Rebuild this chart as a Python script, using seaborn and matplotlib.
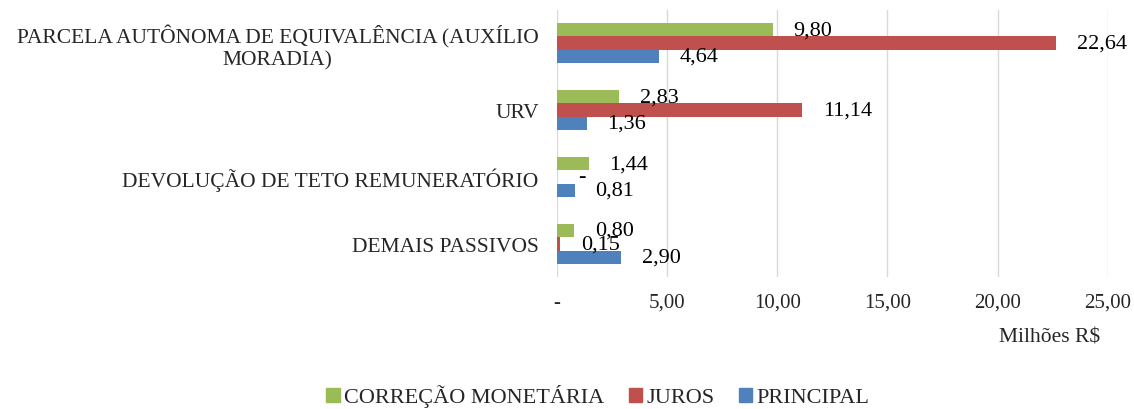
"""Passivos por categoria: correção monetária, juros e principal (milhões R$)."""

import pandas as pd
import matplotlib.pyplot as plt
import seaborn as sns

CATEGORIES = [
    "PARCELA AUTÔNOMA DE EQUIVALÊNCIA (AUXÍLIO\nMORADIA)",
    "URV",
    "DEVOLUÇÃO DE TETO REMUNERATÓRIO",
    "DEMAIS PASSIVOS",
]
SERIES = ["CORREÇÃO MONETÁRIA", "JUROS", "PRINCIPAL"]
CORRECAO = [9.80, 2.83, 1.44, 0.80]
JUROS = [22.64, 11.14, 0.0, 0.15]
PRINCIPAL = [4.64, 1.36, 0.81, 2.90]
X_TICKS = [0, 5, 10, 15, 20, 25]
COLORS = ["#9BBB59", "#C0504D", "#4F81BD"]


def fmt_br(val):
    if val == 0:
        return "-"
    return f"{val:.2f}".replace(".", ",")


def main():
    df = pd.DataFrame({
        "categoria": CATEGORIES * 3,
        "serie": [s for s in SERIES for _ in CATEGORIES],
        "valor": CORRECAO + JUROS + PRINCIPAL,
    })

    sns.set_style("white")
    plt.rcParams["font.family"] = ["Liberation Serif", "DejaVu Serif"]

    fig = plt.figure(figsize=(11.34, 4.10), dpi=100)
    ax = fig.add_axes([0.491, 0.321, 0.486, 0.653])
    sns.barplot(
        data=df,
        y="categoria",
        x="valor",
        hue="serie",
        hue_order=SERIES,
        order=CATEGORIES,
        palette=COLORS,
        orient="h",
        width=0.6,
        gap=0,
        saturation=1,
        linewidth=0,
        ax=ax,
        legend=False,
    )

    for cont, vals in zip(ax.containers, [CORRECAO, JUROS, PRINCIPAL]):
        ax.bar_label(cont, labels=[fmt_br(v) for v in vals], padding=15, fontsize=16, color="#000000")

    ax.set_xlim(0, 25)
    ax.set_xticks(X_TICKS)
    ax.set_xticklabels([fmt_br(v) for v in X_TICKS], fontsize=15)
    ax.tick_params(axis="x", length=0, pad=11)
    ax.tick_params(axis="y", length=0, pad=13, labelsize=15.5)
    for lab in ax.get_yticklabels():
        lab.set_multialignment("center")
    ax.xaxis.grid(True, color="#D9D9D9", linewidth=1)
    ax.set_axisbelow(True)
    for spine in ax.spines.values():
        spine.set_visible(False)
    ax.set_ylabel("")
    ax.set_xlabel("")
    fig.text(1050 / 1134, 1 - 338 / 410, "Milhões R$", ha="center", va="center", fontsize=15.5)

    handles = [plt.Rectangle((0, 0), 1, 1, color=c) for c in COLORS]
    fig.legend(
        handles,
        SERIES,
        loc="center",
        bbox_to_anchor=(598 / 1134, 1 - 397 / 410),
        ncol=3,
        frameon=False,
        fontsize=16,
        handlelength=0.6,
        handleheight=0.6,
        handletextpad=0.2,
        columnspacing=1.1,
        borderpad=0.2,
    )

    fig.savefig("out.png", dpi=100)
    plt.close(fig)


if __name__ == "__main__":
    main()
